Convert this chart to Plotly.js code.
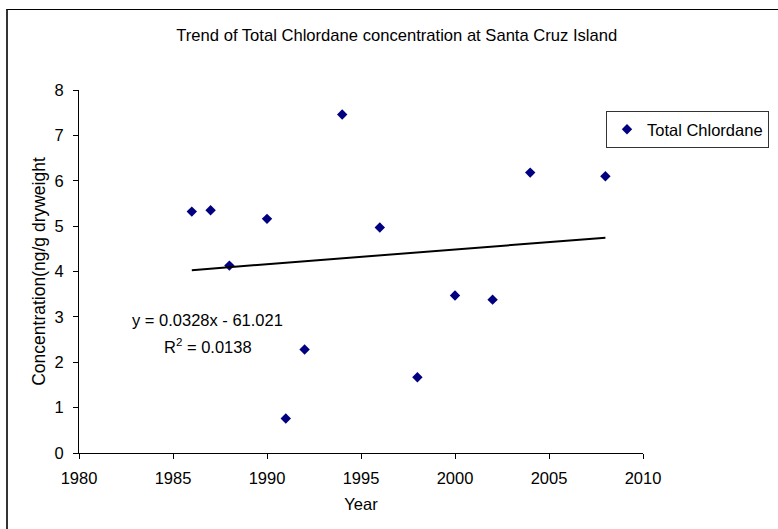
<!DOCTYPE html>
<html>
<head>
<meta charset="utf-8">
<script src="https://cdn.plot.ly/plotly-3.0.1.min.js"></script>
<style>
  html, body { margin: 0; padding: 0; background: #fff; overflow: hidden; }
  #wrap { position: relative; width: 778px; height: 529px; }
  #chart { position: absolute; left: 0; top: 0; width: 778px; height: 529px; }
  #frame { position: absolute; left: 6px; top: 9px; width: 800px; height: 560px;
           border-left: 2px solid #333; border-top: 1px solid #000; pointer-events: none; }
</style>
</head>
<body>
<div id="wrap">
  <div id="chart"></div>
  <div id="frame"></div>
</div>
<script>
const years = [1986, 1987, 1988, 1990, 1991, 1992, 1994, 1996, 1998, 2000, 2002, 2004, 2008];
const chlordane = [5.32, 5.35, 4.13, 5.16, 0.76, 2.28, 7.46, 4.97, 1.67, 3.47, 3.38, 6.18, 6.10];
const seriesName = 'Total Chlordane';
const chartTitle = 'Trend of Total Chlordane concentration at Santa Cruz Island';
const xTitle = 'Year';
const yTitle = 'Concentration(ng/g dryweight';
const equationText = 'y = 0.0328x - 61.021';
const r2Text = 'R<sup>2</sup> = 0.0138';

// least-squares trend line computed from the data
const n = years.length;
const mx = years.reduce((a, b) => a + b, 0) / n;
const my = chlordane.reduce((a, b) => a + b, 0) / n;
let sxy = 0, sxx = 0;
for (let i = 0; i < n; i++) { sxy += (years[i] - mx) * (chlordane[i] - my); sxx += (years[i] - mx) ** 2; }
const slope = sxy / sxx;
const icpt = my - slope * mx;
const tx = [Math.min(...years), Math.max(...years)];
const ty = tx.map(x => slope * x + icpt);

const font = 'Liberation Sans, Arial, sans-serif';

const traces = [
  {
    x: years, y: chlordane, type: 'scatter', mode: 'markers', name: seriesName,
    marker: { symbol: 'diamond', size: 8, color: '#000080' }
  },
  {
    x: tx, y: ty, type: 'scatter', mode: 'lines', showlegend: false,
    line: { color: '#000', width: 2 }, hoverinfo: 'skip'
  }
];

const layout = {
  width: 778, height: 529,
  margin: { l: 79, r: 135, t: 90, b: 76, autoexpand: false },
  paper_bgcolor: '#fff', plot_bgcolor: '#fff',
  font: { family: font, size: 16.5, color: '#000' },
  title: { text: chartTitle, x: 0.51, xref: 'container', xanchor: 'center',
           y: 1 - 35 / 529, yref: 'container', yanchor: 'middle',
           font: { family: font, size: 16.6, color: '#000' } },
  xaxis: {
    range: [1980, 2010], tickmode: 'linear', tick0: 1980, dtick: 5,
    showline: true, linecolor: '#000', linewidth: 1, ticks: 'outside', ticklen: 5, tickcolor: '#000',
    showgrid: false, zeroline: false, tickfont: { size: 16.5 }, ticklabelstandoff: 5,
    title: { text: xTitle, standoff: 12, font: { size: 16.5 } }
  },
  yaxis: {
    range: [0, 8], tickmode: 'linear', tick0: 0, dtick: 1,
    showline: true, linecolor: '#000', linewidth: 1, ticks: 'outside', ticklen: 5, tickcolor: '#000',
    showgrid: false, zeroline: false, tickfont: { size: 16.5 }, ticklabelstandoff: 6,
    title: { text: yTitle, standoff: 4, font: { size: 17.5 } }
  },
  showlegend: true,
  legend: {
    xref: 'container', yref: 'container',
    x: 606 / 778, xanchor: 'left', y: 1 - 111 / 529, yanchor: 'top',
    bordercolor: '#333', borderwidth: 1, bgcolor: '#fff',
    font: { size: 16.5 }, itemwidth: 30, tracegroupgap: 0
  },
  annotations: [
    { x: 1986.82, y: 2.94, xref: 'x', yref: 'y', text: equationText, showarrow: false,
      font: { size: 16.5 }, xanchor: 'center', yanchor: 'middle' },
    { x: 1986.87, y: 2.35, xref: 'x', yref: 'y', text: r2Text, showarrow: false,
      font: { size: 16.5 }, xanchor: 'center', yanchor: 'middle' }
  ]
};

Plotly.newPlot('chart', traces, layout, { displayModeBar: false, staticPlot: true });
</script>
</body>
</html>
